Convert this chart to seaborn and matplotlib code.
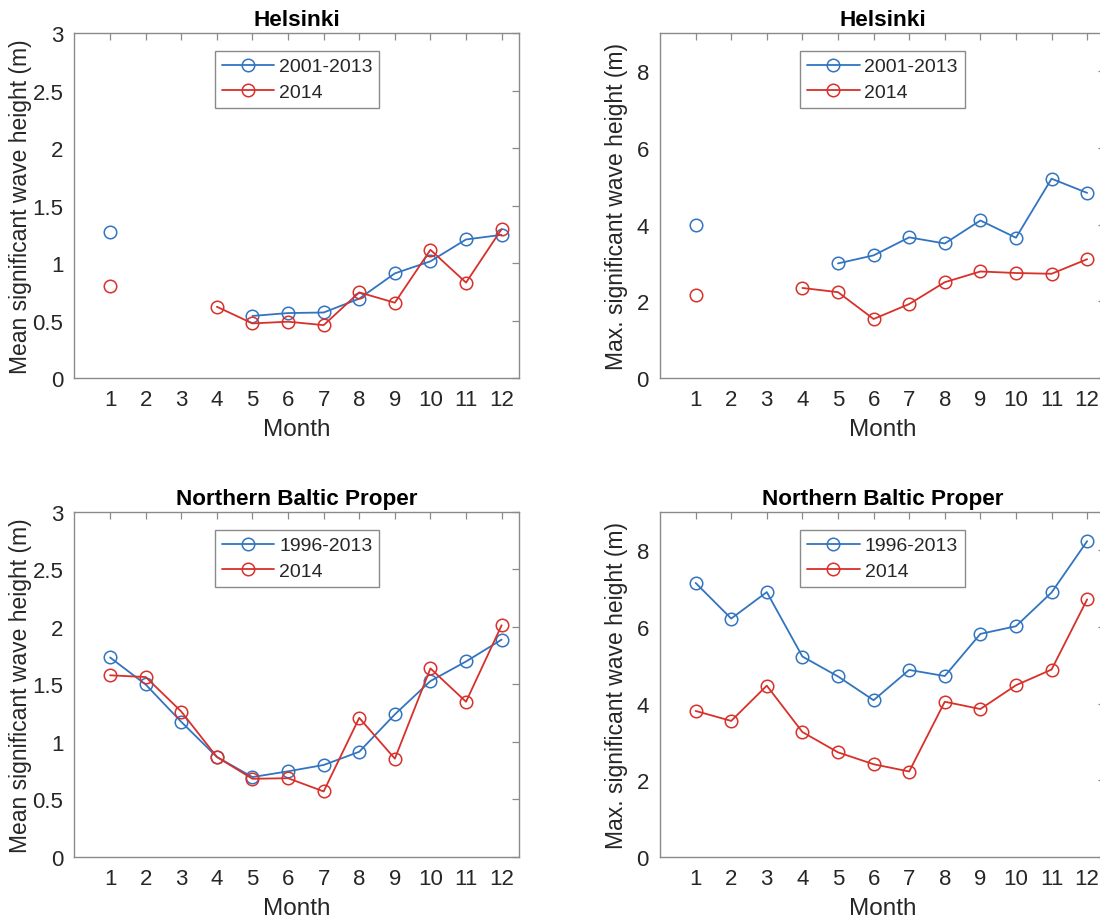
import numpy as np
import pandas as pd
import matplotlib
matplotlib.use("Agg")
import matplotlib.pyplot as plt
from matplotlib.lines import Line2D
from matplotlib.ticker import FuncFormatter
import seaborn as sns

sns.set_style("white")
plt.rcParams["font.family"] = ["Liberation Sans", "DejaVu Sans"]

months = list(range(1, 13))
nan = np.nan

# Helsinki, mean significant wave height (m)
hel_mean_clim = [1.27, nan, nan, nan, 0.54, 0.565, 0.57, 0.69, 0.91, 1.015, 1.205, 1.245]
hel_mean_2014 = [0.80, nan, nan, 0.62, 0.475, 0.49, 0.46, 0.745, 0.655, 1.115, 0.83, 1.295]

# Helsinki, max significant wave height (m)
hel_max_clim = [3.98, nan, nan, nan, 2.99, 3.20, 3.67, 3.51, 4.11, 3.66, 5.20, 4.83]
hel_max_2014 = [2.16, nan, nan, 2.35, 2.24, 1.54, 1.93, 2.50, 2.78, 2.74, 2.72, 3.10]

# Northern Baltic Proper, mean significant wave height (m)
nbp_mean_clim = [1.735, 1.50, 1.175, 0.87, 0.695, 0.745, 0.80, 0.915, 1.24, 1.53, 1.70, 1.89]
nbp_mean_2014 = [1.58, 1.565, 1.265, 0.87, 0.68, 0.685, 0.57, 1.21, 0.855, 1.64, 1.35, 2.015]

# Northern Baltic Proper, max significant wave height (m)
nbp_max_clim = [7.15, 6.22, 6.91, 5.23, 4.71, 4.09, 4.88, 4.72, 5.82, 6.02, 6.90, 8.24]
nbp_max_2014 = [3.81, 3.55, 4.47, 3.26, 2.73, 2.42, 2.23, 4.05, 3.86, 4.48, 4.89, 6.72]

titles = ["Helsinki", "Helsinki", "Northern Baltic Proper", "Northern Baltic Proper"]
ylabels = ["Mean significant wave height (m)", "Max. significant wave height (m)",
           "Mean significant wave height (m)", "Max. significant wave height (m)"]
clim_labels = ["2001-2013", "2001-2013", "1996-2013", "1996-2013"]
label_2014 = "2014"
series = [(hel_mean_clim, hel_mean_2014), (hel_max_clim, hel_max_2014),
          (nbp_mean_clim, nbp_mean_2014), (nbp_max_clim, nbp_max_2014)]
ylims = [(0, 3), (0, 9), (0, 3), (0, 9)]
yticks = [np.arange(0, 3.01, 0.5), np.arange(0, 8.1, 2),
          np.arange(0, 3.01, 0.5), np.arange(0, 8.1, 2)]

BLUE = "#3274c0"
RED = "#d8302a"
SPINE = "#8a8a8a"
TEXT = "#262626"


def to_frame(values):
    """Long table with a segment id so gaps (NaN) break the line."""
    df = pd.DataFrame({"month": months, "value": values})
    df["segment"] = df["value"].isna().cumsum()
    return df.dropna()


def draw_series(ax, values, color):
    df = to_frame(values)
    sns.lineplot(data=df, x="month", y="value", units="segment", estimator=None,
                 color=color, marker="o", markersize=9, markerfacecolor="none",
                 markeredgecolor=color, markeredgewidth=1.1, linewidth=1.3,
                 ax=ax, legend=False)


fig = plt.figure(figsize=(11, 9.2), dpi=100)
W, H = 0.4045, 0.375
positions = [(0.0677, 0.588, W, H), (0.600, 0.588, W, H),
             (0.0677, 0.0674, W, H), (0.600, 0.0674, W, H)]
ylabel_x = [-0.095, -0.072, -0.095, -0.072]

for i, pos in enumerate(positions):
    ax = fig.add_axes(pos)
    clim, y2014 = series[i]
    draw_series(ax, clim, BLUE)
    draw_series(ax, y2014, RED)

    ax.set_xlim(0, 12.5)
    ax.set_ylim(*ylims[i])
    ax.set_xticks(months)
    ax.set_yticks(yticks[i])
    ax.yaxis.set_major_formatter(FuncFormatter(lambda v, p: f"{v:g}"))
    ax.tick_params(direction="in", top=True, right=True, length=5, width=0.9,
                   color=SPINE, labelsize=16, labelcolor=TEXT, pad=8)
    for sp in ax.spines.values():
        sp.set_visible(True)
        sp.set_color(SPINE)
        sp.set_linewidth(1.0)
    ax.set_title(titles[i], fontsize=16.2, fontweight="bold", color="black", pad=6)
    ax.set_xlabel("Month", fontsize=17.5, color=TEXT, labelpad=6)
    ax.set_ylabel(ylabels[i], fontsize=16.5, color=TEXT)
    ax.yaxis.set_label_coords(ylabel_x[i], 0.5)

    handles = [
        Line2D([], [], color=BLUE, marker="o", markersize=9, markerfacecolor="none",
               markeredgecolor=BLUE, markeredgewidth=1.1, linewidth=1.3),
        Line2D([], [], color=RED, marker="o", markersize=9, markerfacecolor="none",
               markeredgecolor=RED, markeredgewidth=1.1, linewidth=1.3),
    ]
    leg = ax.legend(handles, [clim_labels[i], label_2014], loc="upper center",
                    bbox_to_anchor=(0.5, 0.948), fontsize=14, frameon=True,
                    fancybox=False, edgecolor=SPINE, framealpha=1,
                    handlelength=2.7, handletextpad=0.25, borderpad=0.35,
                    labelspacing=0.42, borderaxespad=0)
    leg.get_frame().set_linewidth(1.0)
    for t in leg.get_texts():
        t.set_color(TEXT)

fig.savefig("out.png", dpi=100, facecolor="white")
